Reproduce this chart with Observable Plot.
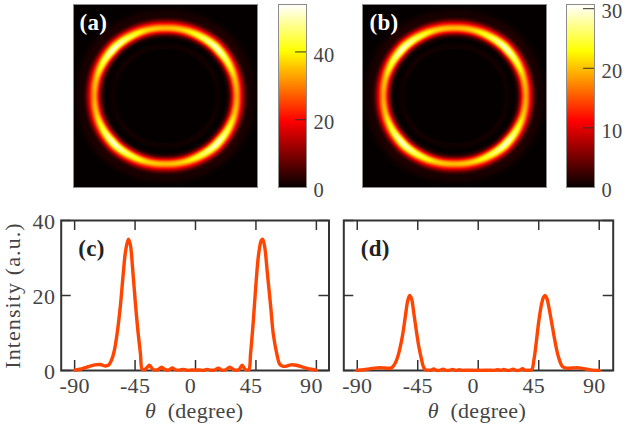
<!DOCTYPE html>
<html>
<head>
<meta charset="utf-8">
<script src="https://cdn.jsdelivr.net/npm/d3@7"></script>
<script src="https://cdn.jsdelivr.net/npm/@observablehq/plot@0.6"></script>
<style>
html,body{margin:0;padding:0;background:#fff}
#fig{position:relative;width:630px;height:435px;overflow:hidden}
#fig svg{position:absolute;overflow:visible;background:transparent;max-width:none}
#fig svg text{letter-spacing:.3px}
#fig svg text[transform*="rotate"]{letter-spacing:1.1px}
</style>
</head>
<body>
<div id="fig"></div>
<script>
// Profiles
const thetaC = [-90,-85,-80,-75,-71,-67,-64.5,-62.5,-60.5,-58.5,-56,-54,-52,-50,-48.5,-47,-45,-43,-41,-39.7,-38,-36.3,-34.3,-32,-30,-27.5,-25.3,-23,-20,-17.4,-15,-12,-8.7,-6,-3,0,3,6,8.7,11,14,17,19.5,22.5,25.5,28,30,32.5,34.7,37,39.6,41,43,45,47,49,50,51.5,53.5,56,58,60.8,62.5,64.5,67,71,75,80,85,90];
const intensityC = [0.1,0.4,1.0,1.5,1.6,1.2,1.5,2.8,5.2,9.5,17,25,32,35,33.5,28,19,11,4.5,0.3,0.2,0.7,1.4,0.4,0.1,0.3,0.9,0.3,0.1,0.7,0.2,0.1,0.3,0.05,0.15,0.1,0.15,0.05,0.3,0.1,0.1,0.6,0.1,0.2,0.9,0.3,0.05,0.3,1.4,0.3,0.2,4.5,13,23,31,34.7,35,33,26,17,9.5,4,1.8,1.2,1.1,1.5,1.4,0.9,0.4,0.1];
const thetaD = [-90,-85,-80,-75,-71,-67,-64.5,-62.5,-60.5,-58.5,-56,-54,-52.5,-51,-49.5,-48,-46,-44,-42.5,-41,-39.5,-37,-35,-33,-31,-28,-26,-24,-21,-19,-17,-14,-12,-8,-4,0,4,8,12,14,17,19,21,24,26,28,31,33,35,37,39.7,41.5,43,45,47,48.5,49.7,51,53,55,57,59,61,62.5,64.5,67,71,75,80,85,90];
const intensityD = [0.05,0.2,0.5,0.7,0.7,0.6,0.7,1.5,3,5.5,10,15,18.5,20,19,15.5,10.5,6,3.5,1.2,0.2,0.1,0.1,0.4,0.05,0.1,0.35,0.05,0.1,0.3,0.05,0.2,0.05,0.1,0.05,0.05,0.05,0.1,0.05,0.2,0.05,0.25,0.05,0.1,0.35,0.05,0.1,0.45,0.05,0.1,0.2,3,7,13,17.5,19.5,20,19.3,16,12,8,4.5,2.2,1.1,0.7,0.6,0.7,0.7,0.4,0.1,0.02];
const xTicks = [-90,-45,0,45,90];
const yTicks = [0,20,40];
const yLabels = ["0","20","40"];

// Ring image: radial profile around the ring crest, and the ring along the angle
const ringOffset = [-32,-22,-19,-16,-14,-12,-10,-8,-6,-4,-2,0,2,4,6,8,10,12,14,16,18,20,24];
const ringLevel  = [0,0,0.03,0.012,0,0,0.02,0.1,0.28,0.58,0.88,1,0.88,0.63,0.39,0.2,0.08,0.035,0.04,0.035,0.025,0.01,0];
const ringAngle  = [0,15,30,40,45,60,75,90];
const ringRadius = [71,71,70.5,70,70,69,68.5,68];
const ringGain   = [0.64,0.7,0.88,1,1,0.86,0.72,0.68];
const peakA = 53, peakB = 30;
const barTicksA = [0,20,40], barMaxA = 54;
const barTicksB = [0,10,20,30], barMaxB = 30.7;
const hotStops = [0,0.365,0.746,1];
const hotColors = ["#050000","#ff0000","#ffff00","#ffffff"];

const serif = "'Liberation Serif', serif";
const ink = "#333", labelInk = "#444", curve = "#ff4500", edge = "#8c8c8c";
const fig = document.getElementById("fig");

function place(svg, left, top) {
  svg.style.left = left + "px";
  svg.style.top = top + "px";
  fig.appendChild(svg);
}
const lerp = d3.scaleLinear;
const levelAt = lerp().domain(ringOffset).range(ringLevel).clamp(true);
const radiusAt = lerp().domain(ringAngle).range(ringRadius);
const gainAt = lerp().domain(ringAngle).range(ringGain);

function ringField(peak) {
  return (x, y) => {
    const r = Math.hypot(x, y);
    let a = Math.abs(Math.atan2(y, x)) * 180 / Math.PI;
    if (a > 90) a = 180 - a;
    return peak * gainAt(a) * levelAt(r - radiusAt(a));
  };
}
function hotScale(max) {
  return {type: "linear", domain: hotStops.map(s => s * max), range: hotColors, clamp: true};
}
function image(peak, max, tag, left, tagDx) {
  const half = 91.7;
  place(Plot.plot({
    width: 184, height: 183, margin: 0,
    x: {domain: [-half, half], axis: null},
    y: {domain: [-half, half], axis: null},
    color: hotScale(max),
    marks: [
      Plot.raster({fill: ringField(peak), x1: -half, x2: half, y1: -half, y2: half, pixelSize: 1}),
      Plot.frame({stroke: edge, strokeWidth: 1}),
      Plot.text([tag], {frameAnchor: "top-left", dx: tagDx, dy: 18, text: d => d, fill: "#fff",
        fontFamily: serif, fontWeight: "bold", fontSize: 23, textAnchor: "start", lineAnchor: "middle"})
    ]
  }), left, 3.5);
}
function bar(max, ticks, left) {
  place(Plot.plot({
    width: 28, height: 183, margin: 0,
    x: {domain: [0, 1], axis: null},
    y: {domain: [0, max], axis: null},
    color: hotScale(max),
    marks: [
      Plot.raster({fill: (x, y) => y, x1: 0, x2: 1, y1: 0, y2: max, pixelSize: 1}),
      Plot.frame({stroke: edge, strokeWidth: 1}),
      Plot.tickY(ticks.filter(t => t > 0), {y: d => d, insetLeft: 17, stroke: ink, strokeWidth: 1}),
      Plot.text(ticks, {y: d => d, text: String, frameAnchor: "right", dx: 7, dy: 3.2, textAnchor: "start",
        fontFamily: serif, fontSize: 20.5, fill: labelInk})
    ]
  }), left, 3.5);
}
function lineChart(theta, intensity, domain, opts) {
  const rows = theta.map((t, i) => ({t, v: intensity[i]}));
  const inner = opts.width - 10 - opts.left - opts.right;
  const marks = [
    Plot.tickX(xTicks, {x: d => d, insetTop: 140, stroke: ink, strokeWidth: 1.5}),
    Plot.tickX(xTicks, {x: d => d, insetBottom: 140, stroke: ink, strokeWidth: 1.5}),
    Plot.tickY(yTicks, {y: d => d, insetRight: inner, stroke: ink, strokeWidth: 1.5}),
    Plot.tickY(yTicks, {y: d => d, insetLeft: inner, stroke: ink, strokeWidth: 1.5}),
    Plot.frame({stroke: ink, strokeWidth: 2}),
    Plot.line(rows, {x: "t", y: "v", stroke: curve, strokeWidth: 3.4, curve: "catmull-rom"}),
    Plot.text(xTicks.filter(t => t < 0), {x: d => d, text: String, frameAnchor: "bottom", dy: 22, fontFamily: serif, fontSize: 22, fill: labelInk}),
    Plot.text(xTicks.filter(t => t >= 0), {x: d => d, text: String, frameAnchor: "bottom", dx: -5, dy: 22, fontFamily: serif, fontSize: 22, fill: labelInk}),
    Plot.text([0], {x: d => d, text: () => "θ", frameAnchor: "bottom", dx: -45, dy: 47, fontFamily: serif, fontStyle: "italic", fontSize: 22, fill: labelInk}),
    Plot.text([0], {x: d => d, text: () => "(degree)", frameAnchor: "bottom", dx: 10, dy: 47, fontFamily: serif, fontSize: 22, fill: labelInk}),
    Plot.text([opts.tag], {frameAnchor: "top-left", dx: 17, dy: 28, text: d => d, fill: "#222",
      fontFamily: serif, fontWeight: "bold", fontSize: 23, textAnchor: "start", lineAnchor: "middle"})
  ];
  if (opts.yAxis) {
    marks.push(Plot.text(yTicks, {y: d => d, text: (d, i) => yLabels[i], frameAnchor: "left", dx: -6, dy: 1, textAnchor: "end", fontFamily: serif, fontSize: 22, fill: labelInk}));
    marks.push(Plot.text(["Intensity (a.u.)"], {text: d => d, frameAnchor: "left", rotate: -90, dx: -48, dy: 0, textAnchor: "middle", fontFamily: serif, fontSize: 22, fill: labelInk}));
  }
  place(Plot.plot({
    width: opts.width, height: 150,
    marginLeft: opts.left, marginRight: opts.right, marginTop: 0, marginBottom: 0,
    x: {domain, axis: null},
    y: {domain: [0, 40], axis: null},
    marks
  }), opts.x, 220);
}

image(peakA, barMaxA, "(a)", 73, 6);
bar(barMaxA, barTicksA, 278);
image(peakB, barMaxB, "(b)", 361.5, 7);
bar(barMaxB, barTicksB, 566);
lineChart(thetaC, intensityC, [-100, 99.4], {tag: "(c)", width: 330, left: 60.7, right: 1.5, x: 0, yAxis: true});
lineChart(thetaD, intensityD, [-100, 100.4], {tag: "(d)", width: 290, left: 13.3, right: 7.3, x: 330, yAxis: false});
</script>
</body>
</html>
